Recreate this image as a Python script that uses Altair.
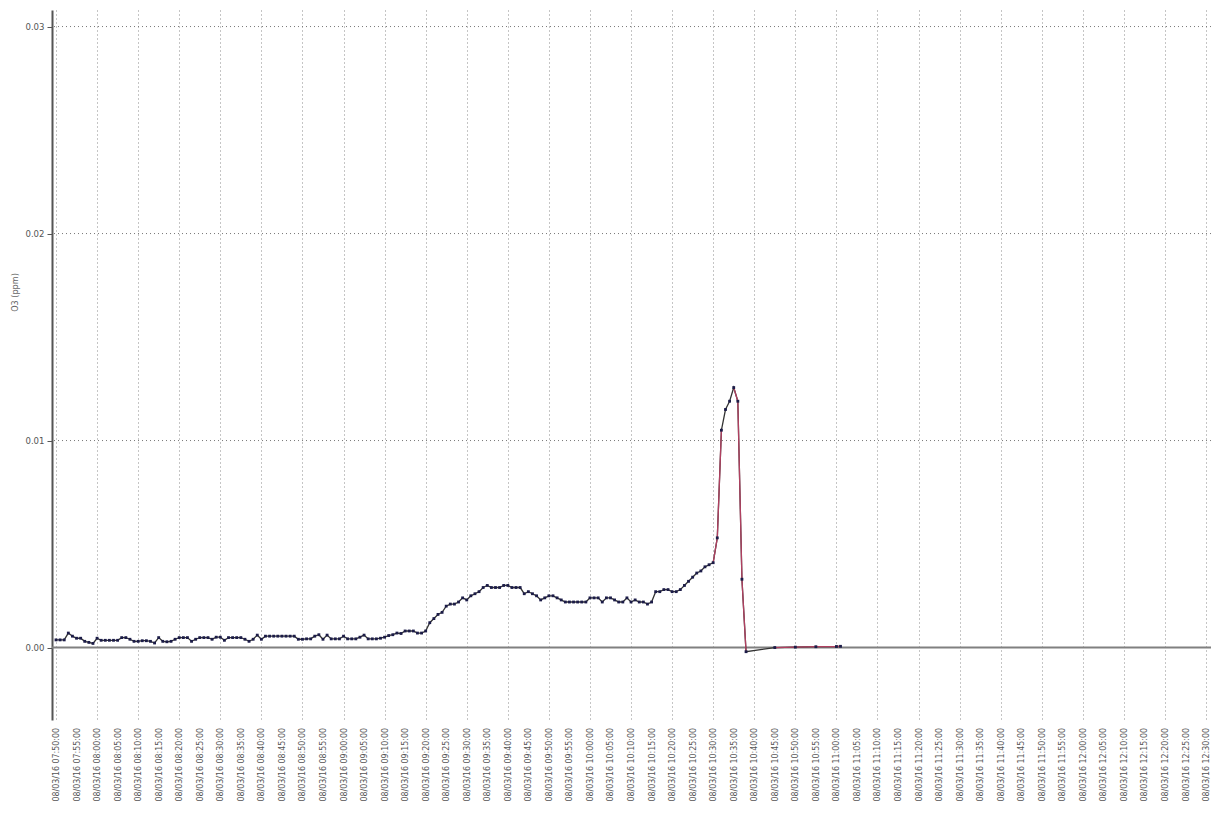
import altair as alt
import pandas as pd

# Sample times: minutes after 08/03/16 07:50:00
minutes = list(range(0, 169)) + [175, 180, 185, 190, 191]

# O3 concentration (ppm)
o3 = [
    0.00037, 0.00037, 0.00037, 0.00070, 0.00055, 0.00045, 0.00045, 0.00030, 0.00025, 0.00020,
    0.00045, 0.00035, 0.00035, 0.00035, 0.00035, 0.00035, 0.00048, 0.00048, 0.00040, 0.00030,
    0.00030, 0.00033, 0.00033, 0.00030, 0.00022, 0.00048, 0.00030, 0.00028, 0.00030, 0.00040,
    0.00048, 0.00048, 0.00048, 0.00030, 0.00040, 0.00048, 0.00048, 0.00048, 0.00040, 0.00050,
    0.00050, 0.00035, 0.00048, 0.00048, 0.00048, 0.00048, 0.00040, 0.00030, 0.00040, 0.00060,
    0.00040, 0.00055, 0.00055, 0.00055, 0.00055, 0.00055, 0.00055, 0.00055, 0.00055, 0.00040,
    0.00040, 0.00042, 0.00042, 0.00055, 0.00062, 0.00040, 0.00060, 0.00042, 0.00042, 0.00042,
    0.00055, 0.00042, 0.00042, 0.00042, 0.00050, 0.00060, 0.00042, 0.00042, 0.00042, 0.00045,
    0.00050, 0.00058, 0.00062, 0.00070, 0.00068, 0.00080, 0.00080, 0.00080, 0.00070, 0.00070,
    0.00080, 0.00120, 0.00140, 0.00160, 0.00170, 0.00200, 0.00210, 0.00210, 0.00220, 0.00240,
    0.00230, 0.00250, 0.00260, 0.00270, 0.00290, 0.00300, 0.00290, 0.00290, 0.00290, 0.00300,
    0.00300, 0.00290, 0.00290, 0.00290, 0.00260, 0.00270, 0.00260, 0.00250, 0.00230, 0.00240,
    0.00250, 0.00250, 0.00240, 0.00230, 0.00220, 0.00220, 0.00220, 0.00220, 0.00220, 0.00220,
    0.00240, 0.00240, 0.00240, 0.00220, 0.00240, 0.00240, 0.00230, 0.00220, 0.00220, 0.00240,
    0.00220, 0.00230, 0.00220, 0.00220, 0.00210, 0.00220, 0.00270, 0.00270, 0.00280, 0.00280,
    0.00270, 0.00270, 0.00280, 0.00300, 0.00320, 0.00340, 0.00360, 0.00370, 0.00390, 0.00400,
    0.00410, 0.00530, 0.01050, 0.01150, 0.01190, 0.01256, 0.01190, 0.00330, -0.00020,
    0.00000, 0.00002, 0.00004, 0.00005, 0.00006,
]

# Segments drawn in red (start minute, end minute)
red_segments = [(160, 162), (165, 168), (175, 191)]

grid_levels = [0.01, 0.02, 0.03]
zero_level = [0.0]
y_ticks = [0.0, 0.01, 0.02, 0.03]

# x tick positions (minutes after 07:50) and their labels
x_ticks = list(range(0, 281, 5))
x_labels = [
    "08/03/16 07:50:00", "08/03/16 07:55:00", "08/03/16 08:00:00", "08/03/16 08:05:00",
    "08/03/16 08:10:00", "08/03/16 08:15:00", "08/03/16 08:20:00", "08/03/16 08:25:00",
    "08/03/16 08:30:00", "08/03/16 08:35:00", "08/03/16 08:40:00", "08/03/16 08:45:00",
    "08/03/16 08:50:00", "08/03/16 08:55:00", "08/03/16 09:00:00", "08/03/16 09:05:00",
    "08/03/16 09:10:00", "08/03/16 09:15:00", "08/03/16 09:20:00", "08/03/16 09:25:00",
    "08/03/16 09:30:00", "08/03/16 09:35:00", "08/03/16 09:40:00", "08/03/16 09:45:00",
    "08/03/16 09:50:00", "08/03/16 09:55:00", "08/03/16 10:00:00", "08/03/16 10:05:00",
    "08/03/16 10:10:00", "08/03/16 10:15:00", "08/03/16 10:20:00", "08/03/16 10:25:00",
    "08/03/16 10:30:00", "08/03/16 10:35:00", "08/03/16 10:40:00", "08/03/16 10:45:00",
    "08/03/16 10:50:00", "08/03/16 10:55:00", "08/03/16 11:00:00", "08/03/16 11:05:00",
    "08/03/16 11:10:00", "08/03/16 11:15:00", "08/03/16 11:20:00", "08/03/16 11:25:00",
    "08/03/16 11:30:00", "08/03/16 11:35:00", "08/03/16 11:40:00", "08/03/16 11:45:00",
    "08/03/16 11:50:00", "08/03/16 11:55:00", "08/03/16 12:00:00", "08/03/16 12:05:00",
    "08/03/16 12:10:00", "08/03/16 12:15:00", "08/03/16 12:20:00", "08/03/16 12:25:00",
    "08/03/16 12:30:00",
]

df = pd.DataFrame({"m": minutes, "v": o3})
lab_df = pd.DataFrame({"m": x_ticks, "label": x_labels})

red_rows = []
for i, (a, b) in enumerate(red_segments):
    sub = df[(df.m >= a) & (df.m <= b)].copy()
    sub["seg"] = i
    red_rows.append(sub)
red_df = pd.concat(red_rows)

FONT = "'Liberation Sans Narrow', 'DejaVu Sans Condensed', 'Liberation Sans', sans-serif"
W, H = 1159, 710

x_scale = alt.Scale(domain=[-0.974, 281.2], nice=False, zero=False)
y_scale = alt.Scale(domain=[-0.0035, 0.0308], nice=False, zero=False)

x_axis = alt.Axis(
    title=None,
    values=x_ticks,
    labels=False,
    ticks=False,
    domain=False,
    grid=True,
    gridDash=[1, 3],
    gridColor="#8a8a8a",
    gridWidth=1,
)
y_axis = alt.Axis(
    title="O3 (ppm)",
    values=y_ticks,
    format=".2f",
    labelFont=FONT,
    labelFontSize=9.5,
    labelColor="#555555",
    titleFont=FONT,
    titleFontSize=9,
    titleFontWeight="normal",
    titleColor="#666666",
    titleX=-38,
    titleY=282,
    titleAngle=270,
    titleAlign="center",
    titleBaseline="middle",
    grid=False,
    domainColor="#555555",
    domainWidth=2,
    tickColor="#555555",
    tickSize=5,
    labelPadding=3,
)

frame = alt.Chart(df).mark_point(opacity=0).encode(
    x=alt.X("m:Q", scale=x_scale, axis=x_axis),
    y=alt.Y("v:Q", scale=y_scale, axis=y_axis),
)

grid = alt.Chart(pd.DataFrame({"y": grid_levels})).mark_rule(
    color="#777777", strokeDash=[1, 3], strokeWidth=1
).encode(y=alt.Y("y:Q", scale=y_scale))

zero = alt.Chart(pd.DataFrame({"y": zero_level})).mark_rule(
    color="#808080", strokeWidth=2
).encode(y=alt.Y("y:Q", scale=y_scale))

line = alt.Chart(df).mark_line(color="#333333", strokeWidth=1.3).encode(
    x=alt.X("m:Q", scale=x_scale), y=alt.Y("v:Q", scale=y_scale)
)

red = alt.Chart(red_df).mark_line(color="#b04060", strokeWidth=1.3).encode(
    x=alt.X("m:Q", scale=x_scale), y=alt.Y("v:Q", scale=y_scale), detail="seg:N"
)

pts = alt.Chart(df).mark_square(size=8, color="#1c1c48", opacity=1).encode(
    x=alt.X("m:Q", scale=x_scale), y=alt.Y("v:Q", scale=y_scale)
)

xlabels = alt.Chart(lab_df).mark_text(
    angle=270, align="right", baseline="middle", font=FONT, fontSize=8.8, color="#555555"
).encode(
    x=alt.X("m:Q", scale=x_scale),
    y=alt.value(H + 8),
    text="label:N",
)

chart = alt.layer(frame, grid, zero, line, red, pts, xlabels).properties(
    width=W,
    height=H,
    background="white",
    autosize=alt.AutoSizeParams(type="none"),
    padding={"left": 44, "top": 2, "right": 0, "bottom": 88},
).configure_view(strokeWidth=0, stroke=None)

chart.save("out.html", embed_options={"renderer": "svg", "actions": False})
